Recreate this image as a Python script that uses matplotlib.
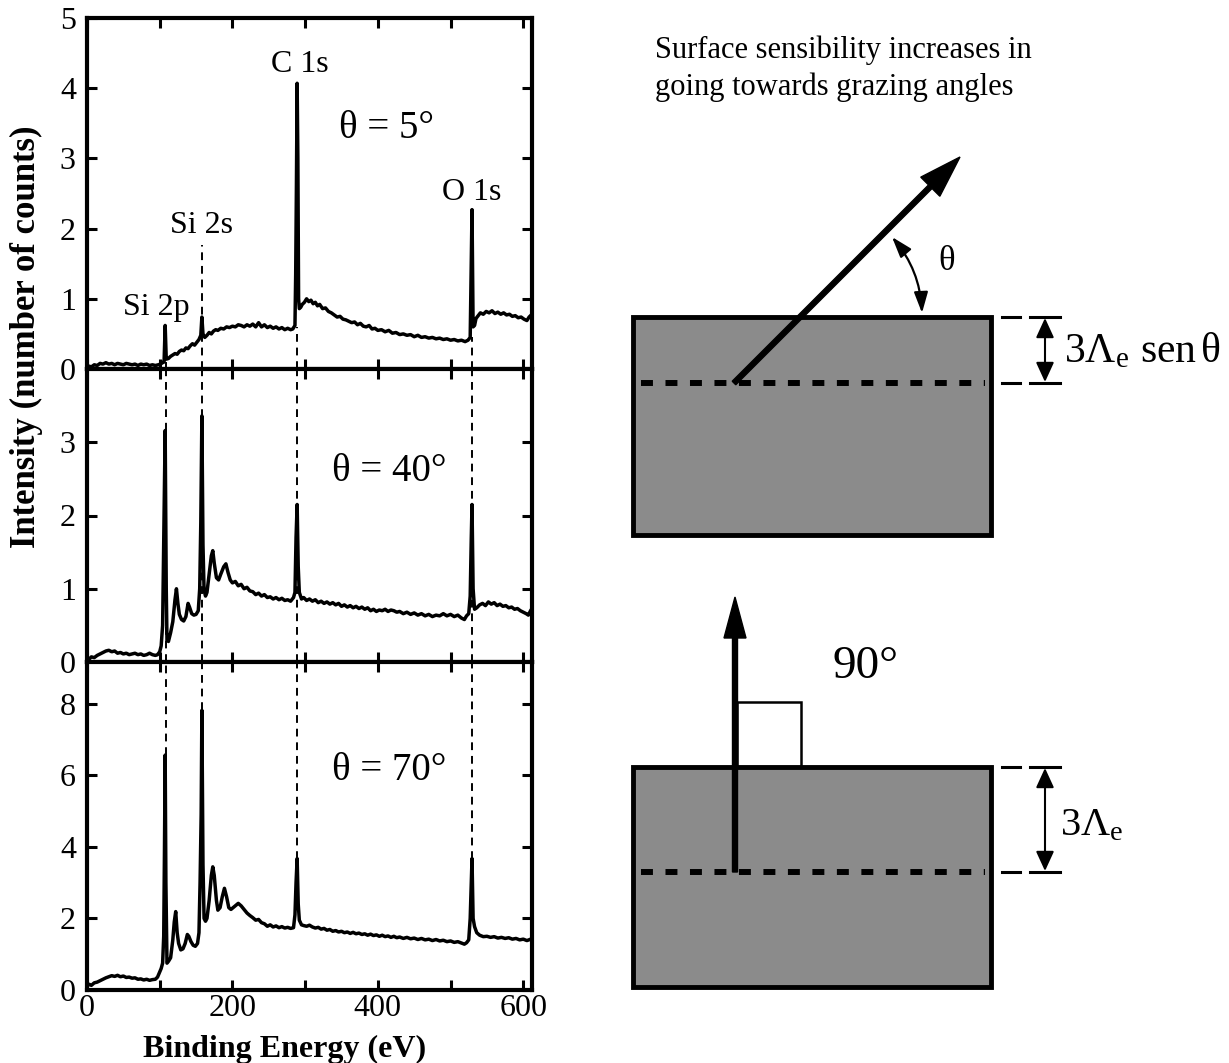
import numpy as np
import matplotlib.pyplot as plt
from matplotlib.patches import Rectangle, FancyArrowPatch

plt.rcParams['font.family'] = ['Liberation Serif', 'DejaVu Serif']
plt.rcParams['mathtext.fontset'] = 'custom'
plt.rcParams['mathtext.rm'] = 'Liberation Serif'
plt.rcParams['mathtext.it'] = 'Liberation Serif'

# --- spectra: (binding energy eV, intensity) ---
spec_5 = [
    (0, 0.02), (3, 0.04), (6, 0.03), (10, 0.06), (14, 0.05), (18, 0.08), (22, 0.07), (26, 0.09),
    (30, 0.07), (34, 0.08), (38, 0.06), (42, 0.08), (46, 0.07), (50, 0.06), (54, 0.08), (58, 0.07),
    (62, 0.06), (66, 0.07), (70, 0.05), (74, 0.07), (78, 0.06), (82, 0.07), (86, 0.05), (90, 0.06),
    (94, 0.05), (98, 0.06), (101, 0.07), (104, 0.09), (106, 0.1), (107.5, 0.62), (109, 0.14),
    (112, 0.15), (115, 0.18), (118, 0.2), (121, 0.22), (124, 0.21), (127, 0.25), (130, 0.27),
    (133, 0.26), (136, 0.3), (139, 0.29), (142, 0.33), (145, 0.36), (148, 0.34), (151, 0.38),
    (154, 0.42), (156.5, 0.48), (158, 0.74), (159.5, 0.5), (162, 0.45), (165, 0.48), (168, 0.52),
    (171, 0.5), (174, 0.54), (177, 0.56), (180, 0.55), (184, 0.58), (188, 0.57), (192, 0.6),
    (196, 0.59), (200, 0.61), (204, 0.6), (208, 0.63), (212, 0.62), (216, 0.6), (220, 0.63),
    (224, 0.61), (228, 0.64), (232, 0.6), (236, 0.66), (240, 0.6), (244, 0.63), (248, 0.59),
    (252, 0.61), (256, 0.58), (260, 0.6), (264, 0.57), (268, 0.59), (272, 0.56), (276, 0.58),
    (280, 0.56), (283, 0.57), (286, 0.62), (287, 1.35), (288, 2.6), (289, 4.07), (290, 3.0),
    (291, 1.0), (292, 0.86), (294, 0.88), (296, 0.92), (299, 0.95), (302, 1.0), (305, 0.96),
    (308, 0.98), (311, 0.93), (314, 0.95), (317, 0.9), (320, 0.92), (324, 0.86), (328, 0.87),
    (332, 0.82), (336, 0.8), (340, 0.77), (344, 0.74), (348, 0.75), (352, 0.71), (356, 0.7),
    (360, 0.68), (364, 0.66), (368, 0.67), (372, 0.63), (376, 0.65), (380, 0.61), (384, 0.6),
    (388, 0.62), (392, 0.57), (396, 0.58), (400, 0.55), (405, 0.56), (410, 0.53), (415, 0.55),
    (420, 0.51), (425, 0.52), (430, 0.49), (435, 0.5), (440, 0.48), (445, 0.49), (450, 0.46),
    (455, 0.48), (460, 0.45), (465, 0.46), (470, 0.44), (475, 0.45), (480, 0.43), (485, 0.44),
    (490, 0.42), (495, 0.43), (500, 0.41), (505, 0.42), (510, 0.4), (515, 0.41), (520, 0.39),
    (524, 0.41), (527, 0.45), (528, 1.2), (529.5, 2.27), (531, 0.6), (533, 0.62), (535, 0.72),
    (538, 0.76), (541, 0.8), (545, 0.78), (549, 0.82), (553, 0.8), (557, 0.83), (561, 0.79),
    (565, 0.81), (569, 0.78), (573, 0.8), (577, 0.77), (581, 0.78), (585, 0.75), (589, 0.76),
    (593, 0.73), (597, 0.74), (601, 0.71), (605, 0.69), (608, 0.74), (612, 0.78),
]

spec_40 = [
    (0, 0.05), (3, 0.04), (6, 0.07), (10, 0.06), (14, 0.09), (18, 0.11), (22, 0.13), (26, 0.15),
    (30, 0.16), (34, 0.14), (38, 0.15), (42, 0.12), (46, 0.13), (50, 0.11), (54, 0.12), (58, 0.1),
    (62, 0.11), (66, 0.12), (70, 0.1), (74, 0.11), (78, 0.09), (82, 0.1), (86, 0.12), (90, 0.1),
    (94, 0.09), (97, 0.1), (100, 0.14), (102, 0.22), (104, 0.5), (105.5, 1.6), (107.5, 3.16),
    (109, 1.0), (110, 0.3), (112, 0.28), (115, 0.4), (118, 0.55), (121, 0.85), (123, 1.0),
    (125, 0.8), (127, 0.65), (130, 0.58), (133, 0.56), (136, 0.62), (139, 0.8), (141, 0.75),
    (144, 0.66), (147, 0.64), (150, 0.65), (153, 0.7), (155, 1.0), (156.5, 1.9), (158, 3.36),
    (159.5, 1.6), (161, 0.98), (163, 0.9), (165, 0.95), (168, 1.2), (171, 1.45), (173, 1.52),
    (175, 1.35), (178, 1.15), (181, 1.12), (184, 1.2), (188, 1.3), (191, 1.34), (194, 1.22),
    (197, 1.12), (200, 1.08), (204, 1.1), (208, 1.04), (212, 1.06), (216, 1.0), (220, 1.02),
    (224, 0.97), (228, 0.96), (232, 0.92), (236, 0.94), (240, 0.9), (244, 0.92), (248, 0.88),
    (252, 0.89), (256, 0.86), (260, 0.88), (264, 0.85), (268, 0.87), (272, 0.84), (276, 0.85),
    (280, 0.83), (284, 0.88), (286, 0.95), (287.5, 1.7), (289, 2.15), (290.5, 1.3), (292, 0.95),
    (295, 0.86), (298, 0.88), (302, 0.84), (306, 0.86), (310, 0.83), (314, 0.85), (318, 0.81),
    (322, 0.83), (326, 0.8), (330, 0.82), (334, 0.79), (338, 0.81), (342, 0.78), (346, 0.8),
    (350, 0.76), (354, 0.78), (358, 0.75), (362, 0.77), (366, 0.74), (370, 0.76), (374, 0.73),
    (378, 0.75), (382, 0.72), (386, 0.74), (390, 0.7), (394, 0.72), (398, 0.69), (402, 0.71),
    (406, 0.7), (410, 0.72), (414, 0.69), (418, 0.71), (422, 0.7), (426, 0.68), (430, 0.69),
    (435, 0.66), (440, 0.68), (445, 0.65), (450, 0.67), (455, 0.64), (460, 0.66), (465, 0.63),
    (470, 0.65), (475, 0.62), (480, 0.64), (485, 0.63), (490, 0.66), (495, 0.63), (500, 0.65),
    (505, 0.62), (510, 0.64), (515, 0.6), (519, 0.58), (522, 0.63), (525, 0.66), (527, 0.9),
    (528.5, 1.7), (529.5, 2.15), (531, 1.0), (533, 0.72), (536, 0.74), (540, 0.78), (544, 0.8),
    (548, 0.77), (552, 0.82), (556, 0.79), (560, 0.81), (564, 0.77), (568, 0.79), (572, 0.76),
    (576, 0.77), (580, 0.74), (584, 0.75), (588, 0.72), (592, 0.73), (596, 0.7), (600, 0.68),
    (604, 0.66), (607, 0.64), (610, 0.7), (612, 0.73),
]

spec_70 = [
    (0, 0.1), (3, 0.16), (6, 0.13), (10, 0.2), (14, 0.22), (18, 0.26), (22, 0.3), (26, 0.34),
    (30, 0.37), (34, 0.4), (38, 0.38), (42, 0.41), (46, 0.37), (50, 0.39), (54, 0.35), (58, 0.36),
    (62, 0.33), (66, 0.34), (70, 0.3), (74, 0.31), (78, 0.28), (82, 0.3), (86, 0.27), (90, 0.29),
    (94, 0.3), (97, 0.36), (100, 0.5), (102, 0.6), (104, 0.75), (105.5, 1.5), (106.5, 3.8),
    (107.5, 6.56), (108.5, 3.0), (110, 0.75), (112, 0.8), (115, 0.9), (118, 1.4), (120, 1.9),
    (122, 2.19), (124, 1.6), (126, 1.3), (129, 1.12), (132, 1.15), (135, 1.3), (138, 1.55),
    (140, 1.5), (143, 1.35), (146, 1.25), (149, 1.22), (152, 1.3), (154, 1.6), (155.5, 3.0),
    (157, 4.9), (158, 7.81), (159.5, 3.5), (161, 2.0), (163, 1.92), (165, 2.0), (168, 2.5),
    (171, 3.2), (173, 3.44), (175, 3.2), (178, 2.5), (180, 2.23), (183, 2.3), (186, 2.6),
    (189, 2.84), (192, 2.6), (195, 2.3), (198, 2.25), (201, 2.3), (204, 2.35), (208, 2.42),
    (212, 2.35), (216, 2.25), (220, 2.15), (224, 2.08), (228, 2.02), (232, 1.95), (236, 1.97),
    (240, 1.88), (244, 1.85), (248, 1.78), (252, 1.82), (256, 1.76), (260, 1.79), (264, 1.74),
    (268, 1.77), (272, 1.73), (276, 1.75), (280, 1.72), (284, 1.74), (286, 2.1), (287.5, 3.0),
    (289, 3.67), (290.5, 2.4), (292, 1.95), (295, 1.82), (298, 1.8), (302, 1.78), (306, 1.81),
    (310, 1.76), (314, 1.73), (318, 1.75), (322, 1.7), (326, 1.72), (330, 1.67), (334, 1.69),
    (338, 1.64), (342, 1.66), (346, 1.62), (350, 1.64), (354, 1.6), (358, 1.62), (362, 1.58),
    (366, 1.61), (370, 1.57), (374, 1.59), (378, 1.55), (382, 1.57), (386, 1.53), (390, 1.56),
    (394, 1.52), (398, 1.54), (402, 1.5), (406, 1.53), (410, 1.49), (414, 1.51), (418, 1.47),
    (422, 1.5), (426, 1.46), (430, 1.48), (435, 1.44), (440, 1.47), (445, 1.43), (450, 1.45),
    (455, 1.41), (460, 1.44), (465, 1.4), (470, 1.42), (475, 1.38), (480, 1.41), (485, 1.37),
    (490, 1.39), (495, 1.35), (500, 1.37), (505, 1.33), (510, 1.35), (515, 1.31), (519, 1.28),
    (522, 1.32), (525, 1.4), (527, 2.0), (528.5, 3.0), (529.5, 3.67), (531, 2.0), (533, 1.77),
    (536, 1.6), (540, 1.53), (545, 1.49), (550, 1.5), (555, 1.47), (560, 1.49), (565, 1.45),
    (570, 1.47), (575, 1.44), (580, 1.46), (585, 1.42), (590, 1.44), (595, 1.4), (600, 1.42),
    (605, 1.38), (609, 1.41), (612, 1.44),
]

# peak markers (dashed lines) and labels
peak_names = ['Si 2p', 'Si 2s', 'C 1s', 'O 1s']
peak_pos = [108, 158, 289, 530]
label_x = [95, 157, 293, 529]
label_y = [0.88, 2.04, 4.34, 2.52]
dash_top_5 = [0.1, 1.77, 0.6, 0.45]        # top panel: under the curve (Si 2s up to its label)
dash_bottom_70 = [6.56, 7.81, 3.67, 3.67]  # bottom panel: from peak top upwards

angles = ['θ = 5°', 'θ = 40°', 'θ = 70°']
angle_xy = [(412, 3.42), (415, 2.6), (415, 6.14)]

x_ticks = [0, 100, 200, 300, 400, 500, 600]
x_tick_labels = ['0', '', '200', '', '400', '', '600']
y_ticks = [[0, 1, 2, 3, 4, 5], [0, 1, 2, 3], [0, 2, 4, 6, 8]]
y_tops = [5.0, 4.0, 9.16]

W, H = 1229, 1063
fig = plt.figure(figsize=(W / 100, H / 100), dpi=100)

# panel boxes in pixels (top, bottom)
left_px, right_px = 87, 532
panel_px = [(18, 369), (369, 662), (662, 990)]
axes = []
for top, bot in panel_px:
    axes.append(fig.add_axes([left_px / W, 1 - bot / H, (right_px - left_px) / W, (bot - top) / H]))

spectra = [spec_5, spec_40, spec_70]
dash_style = (0, (4, 3))
for i, ax in enumerate(axes):
    e, inten = np.array(spectra[i]).T
    ax.plot(e, inten, color='k', lw=2.5, zorder=3)
    if i == 0:
        ax.vlines(peak_pos, 0, dash_top_5, colors='k', linestyles=dash_style, lw=1.4, zorder=2)
    elif i == 1:
        ax.vlines(peak_pos, 0, y_tops[1], colors='k', linestyles=dash_style, lw=1.4, zorder=2)
    else:
        ax.vlines(peak_pos, dash_bottom_70, y_tops[2], colors='k', linestyles=dash_style, lw=1.4, zorder=2)
    ax.set_xlim(0, 612)
    ax.set_ylim(0, y_tops[i])
    ax.set_yticks(y_ticks[i])
    ax.set_xticks(x_ticks)
    if i == 2:
        ax.set_xticklabels(x_tick_labels)
    else:
        ax.tick_params(labelbottom=False)
    ax.tick_params(direction='in', length=7, width=2.2, top=True, right=True, labelsize=23)
    ax.tick_params(axis='y', pad=8)
    ax.tick_params(axis='x', pad=3)
    for s in ax.spines.values():
        s.set_linewidth(3)
    ax.text(angle_xy[i][0], angle_xy[i][1], angles[i], fontsize=28, ha='center', va='center')

for name, lx, ly in zip(peak_names, label_x, label_y):
    axes[0].text(lx, ly, name, fontsize=23, ha='center', va='center')

fig.text(26 / W, 1 - 337 / H, 'Intensity (number of counts)', rotation=90, fontsize=25,
         fontweight='bold', ha='center', va='center')
fig.text(285 / W, 1 - 1057 / H, 'Binding Energy (eV)', fontsize=23, fontweight='bold',
         ha='center', va='baseline')

# --- schematic on the right, drawn in pixel coordinates ---
sk = fig.add_axes([0, 0, 1, 1], facecolor='none')
sk.set_xlim(0, W)
sk.set_ylim(H, 0)
sk.axis('off')

box_x0, box_x1 = 633, 991
boxes = [(317, 535, 383), (767, 987, 872)]  # top, bottom, dashed depth line
for top, bot, depth in boxes:
    sk.add_patch(Rectangle((box_x0, top), box_x1 - box_x0, bot - top, fc='#8b8b8b', ec='k', lw=3.5))
    sk.plot([641, 985], [depth, depth], color='k', lw=4.3, dashes=(2.0, 2.1))
    # dimension marks on the right
    for yy in (top, depth):
        sk.plot([1002, 1020], [yy, yy], color='k', lw=2.2)
        sk.plot([1030, 1060], [yy, yy], color='k', lw=2.2)
    sk.add_patch(FancyArrowPatch((1045, top + 1), (1045, depth - 1),
                                 arrowstyle='<|-|>,head_length=1.2,head_width=0.55',
                                 mutation_scale=10, lw=1.5, color='k', shrinkA=0, shrinkB=0))

# grazing emission arrow and angle
sk.arrow(734, 383, 226, -226, width=5, head_width=27, head_length=42, length_includes_head=True,
         fc='k', ec='k')
sk.add_patch(FancyArrowPatch((892, 237), (922, 313), connectionstyle='arc3,rad=-0.17',
                             arrowstyle='<|-|>,head_length=0.9,head_width=0.3', mutation_scale=14,
                             lw=1.6, color='k', shrinkA=0, shrinkB=0))
sk.text(947, 262, 'θ', fontsize=25, ha='center', va='center')

# normal emission arrow
sk.arrow(735, 872, 0, -275, width=5, head_width=22, head_length=41, length_includes_head=True,
         fc='k', ec='k')
sk.add_patch(Rectangle((737, 702), 64, 65, fc='none', ec='k', lw=1.8))
sk.text(832, 667, '90°', fontsize=34, ha='left', va='center')

sk.text(1064, 362, r'$3\Lambda_{\mathrm{e}}\ \mathrm{sen}\,\theta$', fontsize=30, ha='left', va='baseline')
sk.text(1060, 835, r'$3\Lambda_{\mathrm{e}}$', fontsize=29, ha='left', va='baseline')

sk.text(655, 58, 'Surface sensibility increases in', fontsize=22, ha='left', va='baseline')
sk.text(655, 95, 'going towards grazing angles', fontsize=22, ha='left', va='baseline')

fig.savefig('out.png', dpi=100)
